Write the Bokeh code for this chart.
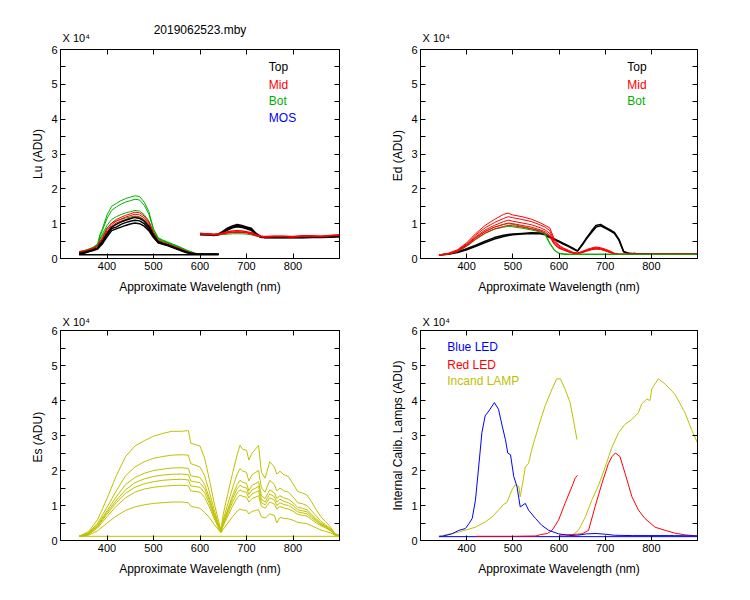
from bokeh.plotting import figure
from bokeh.models import Range1d, FixedTicker, LinearAxis, Label, Title
from bokeh.layouts import gridplot
from bokeh.embed import file_html
from bokeh.resources import INLINE

# ---------------- data (values in units of 10^4 ADU) ----------------
BLACK, RED, GREEN, BLUE, YELLOW = "#000000", "#ff0000", "#00b000", "#0000ff", "#c0c000"

# Lu panel, first spectrometer segment
w_lu1 = [340, 350, 360, 370, 380, 385, 390, 400, 410, 420, 430, 440, 450, 460, 470,
         480, 490, 500, 510, 520, 530, 540, 550, 560, 570, 580, 590, 600, 620, 640]
lu_bot_1 = [0.2, 0.22, 0.27, 0.32, 0.42, 0.7, 0.85, 1.25, 1.5, 1.58, 1.66, 1.72, 1.76, 1.8, 1.78,
            1.62, 1.35, 0.85, 0.6, 0.53, 0.48, 0.42, 0.37, 0.31, 0.25, 0.2, 0.15, 0.13, 0.12, 0.12]
lu_bot_2 = [0.2, 0.22, 0.26, 0.31, 0.4, 0.65, 0.8, 1.15, 1.38, 1.48, 1.56, 1.62, 1.66, 1.7, 1.68,
            1.53, 1.28, 0.82, 0.58, 0.51, 0.46, 0.41, 0.36, 0.3, 0.24, 0.19, 0.15, 0.13, 0.12, 0.12]
lu_bot_3 = [0.19, 0.21, 0.25, 0.3, 0.38, 0.58, 0.7, 0.95, 1.12, 1.2, 1.26, 1.31, 1.34, 1.38, 1.36,
            1.26, 1.08, 0.76, 0.56, 0.5, 0.45, 0.4, 0.35, 0.29, 0.23, 0.18, 0.14, 0.13, 0.12, 0.12]
lu_bot_4 = [0.19, 0.21, 0.25, 0.29, 0.37, 0.55, 0.65, 0.88, 1.02, 1.08, 1.12, 1.16, 1.19, 1.22, 1.2,
            1.12, 0.98, 0.72, 0.54, 0.48, 0.44, 0.39, 0.34, 0.28, 0.22, 0.18, 0.14, 0.13, 0.12, 0.12]
lu_mid_1 = [0.2, 0.21, 0.25, 0.3, 0.37, 0.5, 0.6, 0.85, 1.02, 1.12, 1.18, 1.24, 1.28, 1.33, 1.31,
            1.22, 1.05, 0.75, 0.52, 0.46, 0.42, 0.37, 0.32, 0.27, 0.21, 0.17, 0.14, 0.13, 0.12, 0.12]
lu_mid_2 = [0.19, 0.21, 0.24, 0.29, 0.36, 0.48, 0.57, 0.8, 0.97, 1.07, 1.13, 1.19, 1.23, 1.27, 1.25,
            1.17, 1.0, 0.72, 0.5, 0.45, 0.41, 0.36, 0.31, 0.26, 0.2, 0.16, 0.14, 0.13, 0.12, 0.12]
lu_mid_3 = [0.19, 0.2, 0.24, 0.28, 0.35, 0.46, 0.55, 0.76, 0.92, 1.02, 1.07, 1.12, 1.16, 1.2, 1.18,
            1.1, 0.95, 0.69, 0.49, 0.44, 0.4, 0.35, 0.3, 0.25, 0.2, 0.16, 0.13, 0.12, 0.12, 0.12]
lu_top_1 = [0.15, 0.17, 0.21, 0.25, 0.3, 0.42, 0.5, 0.72, 0.9, 0.98, 1.05, 1.1, 1.14, 1.18, 1.15,
            1.07, 0.92, 0.68, 0.48, 0.43, 0.39, 0.34, 0.29, 0.24, 0.19, 0.15, 0.13, 0.12, 0.12, 0.12]
lu_top_2 = [0.14, 0.16, 0.2, 0.24, 0.29, 0.38, 0.46, 0.68, 0.86, 0.9, 0.98, 1.03, 1.07, 1.1, 1.08,
            1.0, 0.86, 0.64, 0.46, 0.42, 0.38, 0.33, 0.28, 0.23, 0.18, 0.15, 0.13, 0.12, 0.12, 0.12]
lu_top_3 = [0.13, 0.15, 0.19, 0.23, 0.27, 0.35, 0.42, 0.62, 0.8, 0.85, 0.9, 0.95, 0.99, 1.02, 1.0,
            0.93, 0.8, 0.6, 0.45, 0.41, 0.37, 0.32, 0.27, 0.22, 0.17, 0.14, 0.12, 0.12, 0.12, 0.12]
w_lu_base = [340, 640]
lu_base = [0.11, 0.11]

# Lu panel, second spectrometer segment
w_lu2 = [600, 610, 620, 630, 640, 650, 660, 670, 680, 690, 700, 710, 720, 730, 740,
         760, 780, 800, 820, 840, 860, 880, 900]
lu2_bot_1 = [0.70, 0.69, 0.68, 0.67, 0.68, 0.69, 0.70, 0.71, 0.71, 0.71, 0.70, 0.68, 0.65, 0.62, 0.61,
             0.62, 0.62, 0.61, 0.62, 0.62, 0.62, 0.63, 0.65]
lu2_mid_1 = [0.72, 0.71, 0.70, 0.69, 0.70, 0.73, 0.77, 0.79, 0.80, 0.79, 0.77, 0.74, 0.68, 0.64, 0.63,
             0.64, 0.64, 0.63, 0.65, 0.65, 0.64, 0.66, 0.68]
lu2_mid_2 = [0.71, 0.70, 0.69, 0.68, 0.69, 0.71, 0.74, 0.75, 0.76, 0.75, 0.74, 0.71, 0.66, 0.63, 0.62,
             0.63, 0.63, 0.62, 0.64, 0.64, 0.63, 0.65, 0.67]
lu2_top_1 = [0.71, 0.70, 0.69, 0.68, 0.70, 0.78, 0.87, 0.93, 0.97, 0.94, 0.90, 0.86, 0.72, 0.63, 0.61,
             0.61, 0.61, 0.62, 0.61, 0.62, 0.62, 0.63, 0.64]
lu2_top_2 = [0.69, 0.68, 0.68, 0.67, 0.69, 0.75, 0.83, 0.89, 0.92, 0.90, 0.86, 0.82, 0.70, 0.62, 0.60,
             0.60, 0.60, 0.61, 0.60, 0.61, 0.61, 0.62, 0.63]

# Ed panel
w_ed = [340, 360, 380, 400, 420, 440, 460, 480, 490, 500, 520, 540, 560, 570, 580, 590, 600, 610, 620,
        630, 640, 650, 660, 670, 680, 690, 700, 710, 720, 730, 740, 750, 760, 780, 800, 850, 900]
ed_bot_1 = [0.1, 0.13, 0.21, 0.38, 0.6, 0.78, 0.9, 0.98, 1.0, 0.98, 0.92, 0.86, 0.8, 0.72, 0.45, 0.25,
            0.15, 0.13, 0.12, 0.12, 0.12, 0.12, 0.12, 0.12, 0.12, 0.12, 0.12, 0.12, 0.12, 0.12, 0.12,
            0.12, 0.12, 0.12, 0.12, 0.12, 0.12]
ed_bot_2 = [0.1, 0.13, 0.2, 0.35, 0.55, 0.72, 0.84, 0.9, 0.92, 0.91, 0.87, 0.82, 0.76, 0.68, 0.42, 0.23,
            0.14, 0.12, 0.12, 0.12, 0.12, 0.12, 0.12, 0.12, 0.12, 0.12, 0.12, 0.12, 0.12, 0.12, 0.12,
            0.12, 0.12, 0.12, 0.12, 0.12, 0.12]
ed_mid_1 = [0.1, 0.15, 0.25, 0.45, 0.72, 0.95, 1.12, 1.27, 1.3, 1.25, 1.2, 1.13, 1.02, 0.95, 0.88, 0.55,
            0.38, 0.3, 0.24, 0.18, 0.16, 0.2, 0.26, 0.3, 0.33, 0.31, 0.27, 0.22, 0.15, 0.12, 0.12,
            0.12, 0.12, 0.12, 0.12, 0.12, 0.12]
ed_mid_2 = [0.1, 0.14, 0.23, 0.42, 0.68, 0.88, 1.03, 1.15, 1.2, 1.17, 1.12, 1.06, 0.96, 0.9, 0.8, 0.5,
            0.35, 0.28, 0.22, 0.17, 0.15, 0.19, 0.24, 0.28, 0.31, 0.29, 0.25, 0.2, 0.14, 0.12, 0.12,
            0.12, 0.12, 0.12, 0.12, 0.12, 0.12]
ed_mid_3 = [0.1, 0.14, 0.22, 0.4, 0.63, 0.82, 0.95, 1.06, 1.1, 1.07, 1.02, 0.97, 0.88, 0.82, 0.72, 0.45,
            0.32, 0.26, 0.2, 0.16, 0.15, 0.18, 0.23, 0.27, 0.3, 0.28, 0.24, 0.19, 0.14, 0.12, 0.12,
            0.12, 0.12, 0.12, 0.12, 0.12, 0.12]
ed_mid_4 = [0.1, 0.13, 0.21, 0.38, 0.6, 0.77, 0.9, 0.98, 1.02, 1.0, 0.95, 0.9, 0.82, 0.77, 0.66, 0.42,
            0.3, 0.25, 0.2, 0.16, 0.14, 0.17, 0.22, 0.26, 0.28, 0.27, 0.23, 0.18, 0.13, 0.12, 0.12,
            0.12, 0.12, 0.12, 0.12, 0.12, 0.12]
ed_mid_5 = [0.1, 0.13, 0.2, 0.36, 0.56, 0.73, 0.85, 0.92, 0.95, 0.94, 0.9, 0.85, 0.78, 0.73, 0.62, 0.4,
            0.29, 0.24, 0.19, 0.15, 0.14, 0.17, 0.21, 0.25, 0.27, 0.26, 0.22, 0.17, 0.13, 0.12, 0.12,
            0.12, 0.12, 0.12, 0.12, 0.12, 0.12]
ed_top_1 = [0.1, 0.13, 0.19, 0.28, 0.38, 0.5, 0.6, 0.67, 0.69, 0.7, 0.72, 0.74, 0.73, 0.7, 0.62, 0.56,
            0.5, 0.43, 0.37, 0.3, 0.22, 0.4, 0.6, 0.78, 0.95, 0.98, 0.9, 0.83, 0.75, 0.55, 0.2,
            0.15, 0.14, 0.13, 0.12, 0.12, 0.12]
ed_top_2 = [0.1, 0.12, 0.17, 0.25, 0.35, 0.46, 0.56, 0.63, 0.66, 0.68, 0.7, 0.72, 0.71, 0.68, 0.6, 0.54,
            0.48, 0.41, 0.35, 0.28, 0.21, 0.38, 0.57, 0.74, 0.9, 0.94, 0.87, 0.8, 0.72, 0.52, 0.19,
            0.15, 0.14, 0.13, 0.12, 0.12, 0.12]

# Es panel
w_es = [340, 360, 380, 400, 420, 440, 460, 480, 500, 520, 540, 560, 575, 580, 600, 610, 620, 630, 640, 645,
        650, 660, 670, 680, 686, 692, 700, 705, 712, 720, 726, 732, 740, 750, 760, 765, 772, 780, 790, 800,
        810, 820, 830, 840, 850, 860, 870, 880, 890, 900]
es_1 = [0.12, 0.25, 0.6, 1.2, 1.85, 2.4, 2.7, 2.85, 2.98, 3.06, 3.12, 3.12, 3.14, 2.78, 2.7, 2.35, 1.75, 1.1, 0.55, 0.3,
        0.75, 1.35, 1.92, 2.45, 2.72, 2.6, 2.58, 2.3, 2.5, 2.62, 2.72, 1.95, 1.78, 2.25, 2.1, 1.9, 1.98, 1.88, 1.83, 1.62,
        1.4, 1.36, 1.3, 1.1, 0.88, 0.68, 0.54, 0.4, 0.2, 0.14]
es_2 = [0.12, 0.22, 0.5, 0.95, 1.42, 1.85, 2.1, 2.25, 2.35, 2.4, 2.44, 2.45, 2.44, 2.2, 2.1, 1.85, 1.4, 0.9, 0.45, 0.28,
        0.6, 1.05, 1.5, 1.9, 2.05, 1.98, 1.95, 1.7, 1.88, 1.95, 2.0, 1.5, 1.38, 1.72, 1.6, 1.42, 1.5, 1.42, 1.38, 1.25,
        1.08, 1.05, 1.0, 0.85, 0.7, 0.55, 0.45, 0.35, 0.2, 0.14]
es_3 = [0.12, 0.2, 0.45, 0.85, 1.25, 1.6, 1.8, 1.92, 2.0, 2.04, 2.07, 2.08, 2.06, 1.85, 1.8, 1.6, 1.22, 0.8, 0.42, 0.27,
        0.52, 0.9, 1.28, 1.6, 1.72, 1.66, 1.63, 1.42, 1.58, 1.63, 1.68, 1.28, 1.2, 1.45, 1.36, 1.2, 1.28, 1.22, 1.18, 1.08,
        0.95, 0.92, 0.88, 0.75, 0.62, 0.5, 0.42, 0.32, 0.19, 0.14]
es_4 = [0.12, 0.19, 0.42, 0.8, 1.15, 1.45, 1.65, 1.76, 1.83, 1.87, 1.89, 1.9, 1.88, 1.7, 1.65, 1.48, 1.15, 0.75, 0.4, 0.26,
        0.5, 0.85, 1.2, 1.48, 1.58, 1.53, 1.5, 1.32, 1.45, 1.5, 1.55, 1.18, 1.1, 1.33, 1.25, 1.1, 1.18, 1.12, 1.08, 1.0,
        0.88, 0.85, 0.82, 0.7, 0.58, 0.47, 0.4, 0.3, 0.18, 0.14]
es_5 = [0.12, 0.18, 0.4, 0.75, 1.08, 1.35, 1.52, 1.62, 1.68, 1.72, 1.74, 1.75, 1.73, 1.56, 1.52, 1.36, 1.06, 0.7, 0.38, 0.25,
        0.46, 0.78, 1.1, 1.36, 1.45, 1.4, 1.38, 1.22, 1.33, 1.38, 1.42, 1.08, 1.02, 1.22, 1.15, 1.0, 1.08, 1.03, 1.0, 0.92,
        0.82, 0.79, 0.76, 0.65, 0.55, 0.45, 0.38, 0.29, 0.18, 0.14]
es_6 = [0.12, 0.17, 0.36, 0.68, 0.98, 1.22, 1.38, 1.47, 1.52, 1.55, 1.57, 1.58, 1.56, 1.42, 1.38, 1.23, 0.96, 0.64, 0.35, 0.24,
        0.42, 0.7, 0.98, 1.22, 1.3, 1.26, 1.24, 1.1, 1.2, 1.24, 1.28, 0.98, 0.92, 1.1, 1.04, 0.9, 0.97, 0.93, 0.9, 0.84,
        0.75, 0.72, 0.7, 0.6, 0.5, 0.42, 0.36, 0.28, 0.17, 0.14]
es_7 = [0.12, 0.15, 0.28, 0.5, 0.7, 0.86, 0.96, 1.02, 1.06, 1.08, 1.1, 1.1, 1.08, 0.98, 0.92, 0.8, 0.66, 0.47, 0.3, 0.22,
        0.32, 0.5, 0.68, 0.84, 0.9, 0.87, 0.86, 0.76, 0.83, 0.86, 0.88, 0.68, 0.64, 0.76, 0.72, 0.5, 0.66, 0.63, 0.62, 0.58,
        0.52, 0.5, 0.48, 0.42, 0.36, 0.3, 0.26, 0.22, 0.15, 0.13]
w_es_base = [340, 900]
es_base = [0.12, 0.12]

# Internal calibration lamps panel
w_blue1 = [340, 347, 368, 383, 397, 405, 412, 419, 426, 433, 440, 448, 460, 469, 477, 484, 489, 495, 502, 509,
           516, 527, 534, 549, 563, 578, 599, 620, 640]
blue1 = [0.12, 0.12, 0.19, 0.29, 0.34, 0.48, 0.63, 1.15, 2.1, 3.08, 3.56, 3.7, 3.94, 3.75, 3.27, 2.88, 2.5, 2.45, 1.83, 1.54,
         0.96, 1.06, 0.87, 0.63, 0.43, 0.29, 0.19, 0.15, 0.13]
w_blue2 = [640, 660, 680, 700, 720, 760, 800, 850, 900]
blue2 = [0.15, 0.19, 0.2, 0.18, 0.15, 0.14, 0.14, 0.14, 0.13]
w_blue_base = [340, 900]
blue_base = [0.11, 0.11]
w_red1 = [420, 500, 550, 560, 575, 585, 599, 613, 628, 635, 640]
red1 = [0.12, 0.12, 0.13, 0.17, 0.2, 0.29, 0.58, 1.06, 1.54, 1.78, 1.86]
w_red2 = [600, 630, 650, 664, 678, 693, 707, 715, 722, 732, 743, 758, 772, 786, 808, 830, 851, 873, 900]
red2 = [0.15, 0.17, 0.19, 0.29, 0.96, 1.63, 2.2, 2.4, 2.5, 2.4, 1.92, 1.25, 0.87, 0.63, 0.38, 0.29, 0.21, 0.16, 0.13]
w_lamp1 = [340, 347, 383, 419, 440, 455, 469, 480, 487, 498, 505, 513, 516, 520, 527, 534, 541, 556, 570, 585,
           595, 603, 613, 624, 631, 635, 639]
lamp1 = [0.12, 0.14, 0.24, 0.38, 0.53, 0.67, 0.87, 1.03, 1.08, 1.44, 1.59, 1.54, 1.25, 1.54, 2.1, 2.2, 2.6, 3.27, 3.85, 4.33,
         4.62, 4.62, 4.33, 3.94, 3.46, 3.17, 2.88]
w_lamp2 = [628, 642, 657, 671, 686, 700, 714, 729, 743, 758, 772, 779, 790, 797, 801, 815, 830, 851, 873, 887, 900]
lamp2 = [0.14, 0.29, 0.67, 1.15, 1.59, 2.1, 2.64, 3.08, 3.32, 3.46, 3.65, 3.9, 4.04, 4.0, 4.33, 4.62, 4.47, 4.18, 3.65, 3.17, 2.79]

x_ticks = [400, 500, 600, 700, 800]
y_ticks = [0, 1, 2, 3, 4, 5, 6]
y_minor = [0.5, 1.5, 2.5, 3.5, 4.5, 5.5]

# ---------------- styling / layout ----------------
FONT = "Liberation Sans"


def make_fig(ylabel, bl, br, bt, bb, fw, fh, exp_standoff, title=None):
    p = figure(output_backend="svg", toolbar_location=None, frame_width=fw, frame_height=fh,
               x_range=Range1d(300, 900), y_range=Range1d(0, 6),
               min_border_left=bl, min_border_right=br, min_border_top=bt, min_border_bottom=bb,
               x_axis_label="Approximate Wavelength (nm)", y_axis_label=ylabel)
    p.grid.visible = False
    p.outline_line_color = "black"
    p.outline_line_width = 1
    p.background_fill_color = "white"
    p.border_fill_color = "white"
    xa = p.xaxis[0]
    xa.ticker = FixedTicker(ticks=x_ticks)
    ya = p.yaxis[0]
    ya.ticker = FixedTicker(ticks=y_ticks, minor_ticks=y_minor)
    for ax in (xa, ya):
        ax.major_tick_in = 5
        ax.major_tick_out = 0
        ax.minor_tick_in = 5
        ax.minor_tick_out = 0
        ax.major_label_standoff = 3
        ax.major_label_text_font = FONT
        ax.major_label_text_font_size = "11px"
        ax.major_label_text_color = "black"
        ax.axis_label_text_font = FONT
        ax.axis_label_text_font_size = "12px"
        ax.axis_label_text_font_style = "normal"
        ax.axis_label_text_color = "black"
        ax.axis_line_color = "black"
        ax.major_tick_line_color = "black"
    xa.minor_tick_line_color = None
    xa.axis_label_standoff = 7
    ya.axis_label_standoff = 3
    # mirrored ticks on top and right
    top = LinearAxis(ticker=FixedTicker(ticks=x_ticks),
                     major_label_overrides={t: "" for t in x_ticks})
    right = LinearAxis(ticker=FixedTicker(ticks=y_ticks, minor_ticks=y_minor),
                       major_label_overrides={t: "" for t in y_ticks})
    for ax in (top, right):
        ax.major_tick_in = 5
        ax.major_tick_out = 0
        ax.minor_tick_in = 5
        ax.minor_tick_out = 0
        ax.major_label_standoff = 0
        ax.major_label_text_font_size = "0px"
        ax.axis_line_color = "black"
    top.minor_tick_line_color = None
    p.add_layout(top, "above")
    p.add_layout(right, "right")
    p.add_layout(Title(text="X 10\u2074", align="left", offset=2, standoff=exp_standoff, text_font=FONT,
                       text_font_size="11px", text_font_style="normal", text_color="black"), "above")
    if title:
        p.add_layout(Title(text=title, align="center", standoff=-24, text_font=FONT,
                           text_font_size="12px", text_font_style="normal", text_color="black"), "above")
    return p


def legend(p, x, ys, texts, colors):
    for y, t, c in zip(ys, texts, colors):
        p.add_layout(Label(x=x, y=y, text=t, text_color=c, text_font=FONT, text_font_size="12px",
                           text_baseline="middle", text_align="left"))


LW = 1

# Lu
p1 = make_fig("Lu (ADU)", 60, 39, 49, 40, 279, 209, 11, title="2019062523.mby")
for v in (lu_bot_1, lu_bot_2, lu_bot_3, lu_bot_4):
    p1.line(w_lu1, v, line_color=GREEN, line_width=LW)
for v in (lu2_bot_1,):
    p1.line(w_lu2, v, line_color=GREEN, line_width=LW)
for v in (lu_mid_1, lu_mid_2, lu_mid_3):
    p1.line(w_lu1, v, line_color=RED, line_width=LW)
for v in (lu_top_1, lu_top_2, lu_top_3):
    p1.line(w_lu1, v, line_color=BLACK, line_width=1.5)
p1.line(w_lu_base, lu_base, line_color=BLACK, line_width=1.5)
for v in (lu2_top_1, lu2_top_2):
    p1.line(w_lu2, v, line_color=BLACK, line_width=2)
for v in (lu2_mid_1, lu2_mid_2):
    p1.line(w_lu2, v, line_color=RED, line_width=1.5)
legend(p1, 748, [5.51, 4.99, 4.53, 4.04], ["Top", "Mid", "Bot", "MOS"], [BLACK, RED, GREEN, BLUE])

# Ed
p2 = make_fig("Ed  (ADU)", 42, 40, 49, 40, 277, 209, 11)
for v in (ed_top_1, ed_top_2):
    p2.line(w_ed, v, line_color=BLACK, line_width=1.5)
for v in (ed_bot_1, ed_bot_2):
    p2.line(w_ed, v, line_color=GREEN, line_width=LW)
for v in (ed_mid_1, ed_mid_2, ed_mid_3, ed_mid_4, ed_mid_5):
    p2.line(w_ed, v, line_color=RED, line_width=LW)
p2.line(w_ed[16:], ed_bot_1[16:], line_color=GREEN, line_width=LW)
legend(p2, 748, [5.51, 4.99, 4.53], ["Top", "Mid", "Bot"], [BLACK, RED, GREEN])

# Es
p3 = make_fig("Es  (ADU)", 60, 39, 32, 40, 279, 210, 5)
p3.line(w_es_base, es_base, line_color=YELLOW, line_width=LW)
for v in (es_1, es_2, es_3, es_4, es_5, es_6, es_7):
    p3.line(w_es, v, line_color=YELLOW, line_width=LW)

# Lamps
p4 = make_fig("Internal Calib. Lamps (ADU)", 42, 40, 32, 40, 277, 210, 5)
p4.line(w_blue_base, blue_base, line_color=BLUE, line_width=LW)
p4.line(w_lamp1, lamp1, line_color=YELLOW, line_width=LW)
p4.line(w_lamp2, lamp2, line_color=YELLOW, line_width=LW)
p4.line(w_red1, red1, line_color=RED, line_width=LW)
p4.line(w_red2, red2, line_color=RED, line_width=LW)
p4.line(w_blue1, blue1, line_color=BLUE, line_width=LW)
p4.line(w_blue2, blue2, line_color=BLUE, line_width=LW)
legend(p4, 358, [5.54, 5.02, 4.56], ["Blue LED", "Red LED", "Incand LAMP"], [BLUE, RED, YELLOW])

grid = gridplot([[p1, p2], [p3, p4]], toolbar_location=None)
open("out.html", "w").write(file_html(grid, INLINE))
